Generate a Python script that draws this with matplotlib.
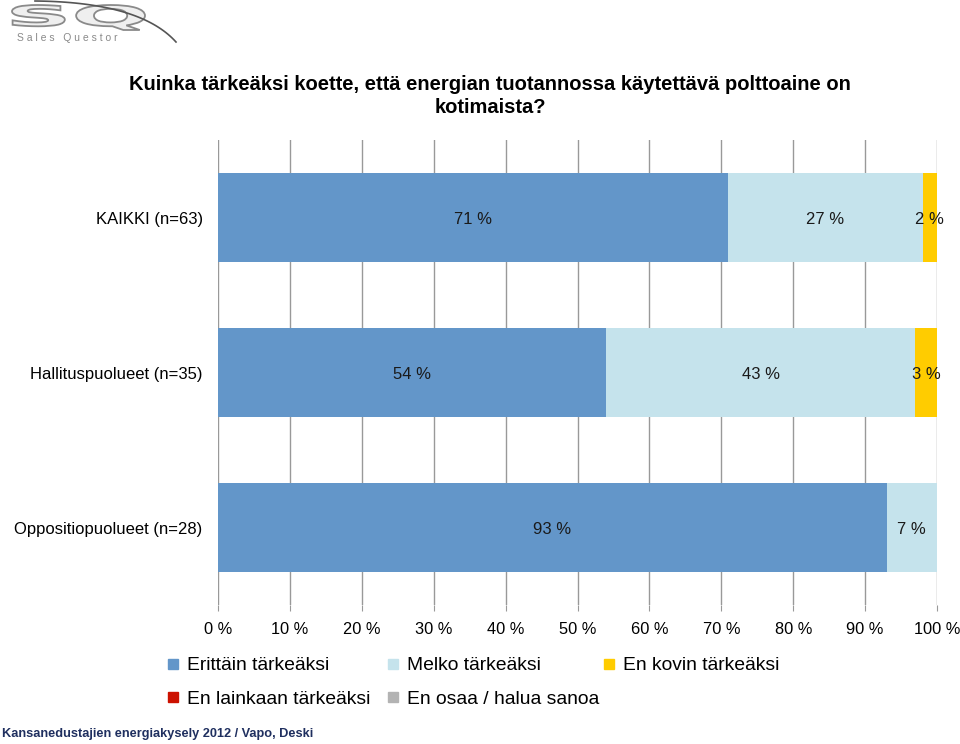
import matplotlib
matplotlib.use("Agg")
import matplotlib.pyplot as plt
from matplotlib.patches import Rectangle, PathPatch
from matplotlib.lines import Line2D
from matplotlib.textpath import TextPath
from matplotlib.font_manager import FontProperties
from matplotlib.transforms import Affine2D, IdentityTransform
import numpy as np

plt.rcParams['font.family'] = ['Liberation Sans', 'DejaVu Sans']

categories = ["KAIKKI (n=63)", "Hallituspuolueet (n=35)", "Oppositiopuolueet (n=28)"]
series_names = ["Erittäin tärkeäksi", "Melko tärkeäksi", "En kovin tärkeäksi",
                "En lainkaan tärkeäksi", "En osaa / halua sanoa"]
erittain = [71, 54, 93]
melko = [27, 43, 7]
en_kovin = [2, 3, 0]
en_lainkaan = [0, 0, 0]
en_osaa = [0, 0, 0]
colors = ["#6396C9", "#C5E3EC", "#FFCC00", "#CC1100", "#B3B3B3"]
xticks = [0, 10, 20, 30, 40, 50, 60, 70, 80, 90, 100]
xticklabels = [f"{t} %" for t in xticks]
title = "Kuinka tärkeäksi koette, että energian tuotannossa käytettävä polttoaine on\nkotimaista?"
footer = "Kansanedustajien energiakysely 2012 / Vapo, Deski"

W, H = 960, 744
fig = plt.figure(figsize=(9.6, 7.44), dpi=100)
ax = fig.add_axes([218/W, 1-605/H, (937-218)/W, (605-140)/H])

series = [erittain, melko, en_kovin, en_lainkaan, en_osaa]
y = np.arange(len(categories))
left = np.zeros(len(categories))
for vals, col in zip(series, colors):
    vals = np.array(vals, dtype=float)
    ax.barh(y, vals, left=left, height=0.57, color=col, zorder=3)
    for yi, (l, v) in enumerate(zip(left, vals)):
        if v > 0:
            ax.text(l + v/2, yi + 0.01, f"{int(v)} %", ha='center', va='center',
                    fontsize=12, color='#1a1a1a', zorder=4)
    left += vals

ax.set_xlim(0, 100)
ax.set_ylim(2.5, -0.5)
ax.set_xticks(xticks)
ax.set_xticklabels(xticklabels, fontsize=11.8)
ax.set_yticks(y)
ax.set_yticklabels(categories, fontsize=12)
ax.tick_params(axis='y', length=0, pad=11)
ax.tick_params(axis='x', length=4, color='#999999', pad=8, direction='out')
ax.grid(axis='x', color='#999999', linewidth=1, zorder=0)
for s in ax.spines.values():
    s.set_visible(False)

fig.text(490/W, 1-96/H, title, ha='center', va='center', fontsize=14.5,
         fontweight='bold', linespacing=1.3)

# legend
leg_pos = [(173, 664), (393, 664), (609, 664), (173, 697), (393, 697)]
for name, col, (px, py) in zip(series_names, colors, leg_pos):
    fig.patches.append(Rectangle((px/W - 5/W, 1-(py+5)/H), 10/W, 10/H,
                                 transform=fig.transFigure, color=col, figure=fig))
    fig.text((px+14)/W, 1-(py+2)/H, name, ha='left', va='center', fontsize=13.9)

fig.text(2/W, 1-734/H, footer, ha='left', va='center', fontsize=9.2,
         fontweight='bold', color='#1F2F5F')

# logo: stretched "SQ" outline
tp = TextPath((0, 0), "SQ", size=10, prop=FontProperties(family='DejaVu Sans', weight='bold'))
ext = tp.get_extents()
x0, x1, ytop, ybot = 12, 145, 5, 30
sx = (x1 - x0) / ext.width
sy = (ybot - ytop) / ext.height
tr = Affine2D().translate(-ext.x0, -ext.y0).scale(sx, sy).translate(x0, H - ybot)
fig.patches.append(PathPatch(tr.transform_path(tp), transform=IdentityTransform(),
                             facecolor='#efefef', edgecolor='#8a8a8a', linewidth=1.3, figure=fig))
t = np.linspace(0, 1, 40)
p0, p1, p2 = np.array([35, 1]), np.array([140, 2]), np.array([176, 42])
curve = ((1-t)**2)[:, None]*p0 + (2*(1-t)*t)[:, None]*p1 + (t**2)[:, None]*p2
fig.lines.append(Line2D(curve[:, 0]/W, 1-curve[:, 1]/H, transform=fig.transFigure,
                        color='#555555', linewidth=1.2, figure=fig))
fig.text(17/W, 1-38/H, "S a l e s   Q u e s t o r", ha='left', va='center',
         fontsize=7.5, color='#8a8a8a')

fig.savefig("out.png", dpi=100)
